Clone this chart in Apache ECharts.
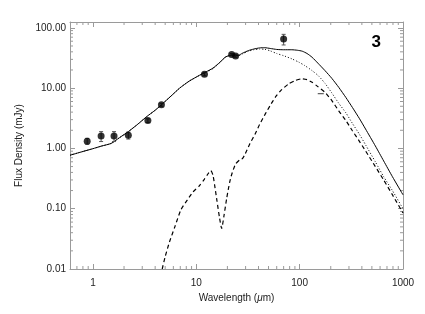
<!DOCTYPE html>
<html><head><meta charset="utf-8">
<script src="https://cdn.jsdelivr.net/npm/echarts@6/dist/echarts.min.js"></script>
<style>html,body{margin:0;padding:0;background:#fff}#c{width:425px;height:314px}</style>
</head><body><div id="c"></div>
<script>
// ---- data ----
const photWl   = [0.88, 1.2, 1.6, 2.2, 3.4, 4.6, 12, 22, 24, 70];
const photFlux = [1.32, 1.6, 1.6, 1.65, 2.9, 5.3, 17, 36, 34, 65];
const photErr  = [0.15, 0.3, 0.3, 0.22, 0.2, 0.3, 1.0, 1.5, 1.5, 13];
const limitWl   = [160];
const limitFlux = [8.1];

const totalWl   = [0.6,0.8,1.0,1.2,1.5,1.8,2.2,2.7,3.3,4.0,4.6,5.7,6.9,8.5,10.7,12.5,14.5,17,19,21,23,25.5,28,32,36,41,46,52,60,70,84,95,106,118,132,150,176,205,239,280,324,380,434,540,650,790,1000];
const totalFlux = [0.77,0.89,0.99,1.09,1.21,1.5,1.9,2.5,3.35,4.3,5.3,7.4,10,13,16.3,18.7,21.5,27,32.5,35,35.5,35,38,42,44.5,46.5,46.8,45.5,43.8,43.3,43.3,42.5,41,37.5,32.5,26,19.5,14.5,10.3,7.0,4.78,3.1,2.1,1.1,0.62,0.34,0.17];

const starWl   = [0.6,0.8,1.0,1.2,1.5,1.8,2.2,2.7,3.3,4.0,4.6,5.7,6.9,8.5,10.7,12.5,14.5,17,19,21,23,25.5,28,32,36,41,46,52,60,70,84,98,112,132,152,176,205,239,280,324,380,434,540,650,790,1000];
const starFlux = [0.77,0.89,0.99,1.09,1.21,1.5,1.9,2.5,3.35,4.3,5.3,7.4,10,13,16.2,18.4,21,26.8,32.3,34.6,34.9,34.3,37,41,43.3,44.5,44,41.5,37.5,34.5,30.6,27,23.7,19.5,16,12,8.3,5.6,3.9,2.6,1.7,1.15,0.6,0.34,0.2,0.1];

const dustWl   = [4.68,5.0,5.5,6.2,7.1,8.2,9.3,10.7,12,13,13.8,14.5,15.2,15.8,16.8,17.6,18.5,19.7,21,22,24,26.4,28,29.6,33,37,41,46.4,52,58,66,78,90,105,118,132,150,176,205,239,280,324,380,434,540,650,790,1000];
const dustFlux = [0.01,0.016,0.028,0.05,0.096,0.14,0.19,0.24,0.31,0.38,0.43,0.36,0.22,0.14,0.07,0.047,0.075,0.15,0.27,0.37,0.55,0.65,0.68,0.8,1.2,1.72,2.5,3.7,5.2,7.0,9.2,11.7,13.3,14.3,13.8,12.5,10.6,8.5,6.2,4.2,2.9,1.96,1.3,0.91,0.5,0.3,0.17,0.085];

const xMajorTicks = [1, 10, 100, 1000];
const yTickLabels = ['0.01', '0.10', '1.00', '10.00', '100.00'];
const xMinorTicks = [0.7,0.8,0.9,2,3,4,5,6,7,8,9,20,30,40,50,60,70,80,90,200,300,400,500,600,700,800,900];
const yMinorTicks = [0.02,0.03,0.04,0.05,0.06,0.07,0.08,0.09,0.2,0.3,0.4,0.5,0.6,0.7,0.8,0.9,2,3,4,5,6,7,8,9,20,30,40,50,60,70,80,90];
const panelLabel = '3';

// ---- layout / style ----
const X_MIN = 0.6, X_MAX = 1000, Y_MIN = 0.01, Y_MAX = 125;
const AXIS_COLOR = '#9a9a9a';
const TEXT_COLOR = '#222';
const FONT = '"Liberation Sans", Arial, sans-serif';
const MAJOR = 5, MINOR = 3;

const zip = (a, b) => a.map((v, i) => [v, b[i]]);

function axisBase(type) {
  return {
    type: 'log', logBase: 10,
    axisLine: { show: true, lineStyle: { color: AXIS_COLOR, width: 1 } },
    axisTick: { show: true, inside: true, length: MAJOR, lineStyle: { color: AXIS_COLOR } },
    splitLine: { show: false },
    minorTick: { show: false },
    minorSplitLine: { show: false }
  };
}

const xBottom = Object.assign(axisBase(), {
  position: 'bottom', min: X_MIN, max: X_MAX,
  name: 'Wavelength ({i|μ}m)', nameLocation: 'middle', nameGap: 23,
  nameTextStyle: { color: TEXT_COLOR, fontSize: 10, fontFamily: FONT,
    rich: { i: { fontStyle: 'italic', fontSize: 10, fontFamily: FONT, color: TEXT_COLOR } } },
  axisLabel: { color: TEXT_COLOR, fontSize: 10, fontFamily: FONT, margin: 9,
    showMinLabel: false,
    formatter: v => { const r = Math.round(v); return xMajorTicks.indexOf(r) >= 0 && Math.abs(v - r) < 1e-6 * r ? String(r) : ''; } }
});
const xTop = Object.assign(axisBase(), { position: 'top', min: X_MIN, max: X_MAX, axisLabel: { show: false } });

const yLeft = Object.assign(axisBase(), {
  position: 'left', min: Y_MIN, max: Y_MAX,
  name: 'Flux Density (mJy)', nameLocation: 'middle', nameGap: 40,
  nameTextStyle: { color: TEXT_COLOR, fontSize: 10, fontFamily: FONT },
  axisLabel: { color: TEXT_COLOR, fontSize: 10, fontFamily: FONT, margin: 4,
    showMaxLabel: false,
    formatter: v => { const e = Math.round(Math.log10(v)); return Math.abs(Math.log10(v) - e) < 1e-6 ? yTickLabels[e + 2] || '' : ''; } }
});
const yRight = Object.assign(axisBase(), { position: 'right', min: Y_MIN, max: Y_MAX, axisLabel: { show: false } });

function minorXItem(params, api) {
  const v = api.value(0);
  const b = api.coord([v, Y_MIN]), t = api.coord([v, Y_MAX]);
  const st = { stroke: AXIS_COLOR, lineWidth: 1 };
  return { type: 'group', children: [
    { type: 'line', shape: { x1: b[0], y1: b[1], x2: b[0], y2: b[1] - MINOR }, style: st },
    { type: 'line', shape: { x1: t[0], y1: t[1], x2: t[0], y2: t[1] + MINOR }, style: st }
  ]};
}
function minorYItem(params, api) {
  const v = api.value(1);
  const l = api.coord([X_MIN, v]), r = api.coord([X_MAX, v]);
  const st = { stroke: AXIS_COLOR, lineWidth: 1 };
  return { type: 'group', children: [
    { type: 'line', shape: { x1: l[0], y1: l[1], x2: l[0] + MINOR, y2: l[1] }, style: st },
    { type: 'line', shape: { x1: r[0], y1: r[1], x2: r[0] - MINOR, y2: r[1] }, style: st }
  ]};
}
function errItem(params, api) {
  const x = api.value(0);
  const lo = api.coord([x, api.value(1)]), hi = api.coord([x, api.value(2)]);
  const st = { stroke: '#555', lineWidth: 1 };
  const c = 2;
  return { type: 'group', children: [
    { type: 'line', shape: { x1: lo[0], y1: lo[1], x2: hi[0], y2: hi[1] }, style: st },
    { type: 'line', shape: { x1: lo[0] - c, y1: lo[1], x2: lo[0] + c, y2: lo[1] }, style: st },
    { type: 'line', shape: { x1: hi[0] - c, y1: hi[1], x2: hi[0] + c, y2: hi[1] }, style: st }
  ]};
}

const chart = echarts.init(document.getElementById('c'), null, { renderer: 'canvas' });
chart.setOption({
  animation: false,
  backgroundColor: '#fff',
  title: { text: panelLabel, right: 44, top: 34, padding: 0,
    textStyle: { fontSize: 17, fontWeight: 'bold', color: '#000', fontFamily: FONT } },
  grid: { left: 70, right: 22, top: 22, bottom: 45 },
  xAxis: [xBottom, xTop],
  yAxis: [yLeft, yRight],
  series: [
    { type: 'custom', renderItem: minorXItem, data: xMinorTicks.map(v => [v, Y_MIN]), encode: { x: 0, y: 1 }, silent: true, z: 1 },
    { type: 'custom', renderItem: minorYItem, data: yMinorTicks.map(v => [X_MIN, v]), encode: { x: 0, y: 1 }, silent: true, z: 1 },
    { name: 'total', type: 'line', data: zip(totalWl, totalFlux), showSymbol: false, smooth: 0.2,
      lineStyle: { color: '#000', width: 1 }, z: 3 },
    { name: 'star', type: 'line', data: zip(starWl, starFlux), showSymbol: false, smooth: 0.2,
      lineStyle: { color: '#000', width: 1, type: [1, 2] }, z: 3 },
    { name: 'dust', type: 'line', data: zip(dustWl, dustFlux), showSymbol: false, smooth: 0.2,
      lineStyle: { color: '#000', width: 1.2, type: [4, 3] }, z: 3 },
    { type: 'custom', renderItem: errItem,
      data: photWl.map((w, i) => [w, photFlux[i] - photErr[i], photFlux[i] + photErr[i]]),
      encode: { x: 0, y: [1, 2] }, z: 4 },
    { name: 'phot', type: 'scatter', data: zip(photWl, photFlux), symbol: 'circle', symbolSize: 7,
      itemStyle: { color: '#000' }, z: 5 },
    { name: 'limit', type: 'scatter', data: zip(limitWl, limitFlux), symbol: 'rect', symbolSize: [6, 1.2],
      itemStyle: { color: '#333' }, z: 5 }
  ]
});
</script></body></html>
